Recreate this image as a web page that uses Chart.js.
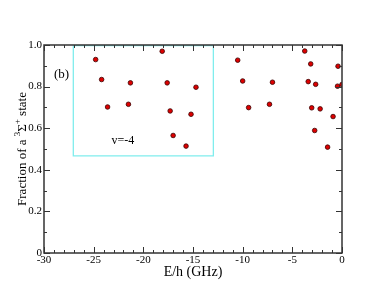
<!DOCTYPE html>
<html>
<head>
<meta charset="utf-8">
<script src="https://cdn.jsdelivr.net/npm/chart.js@4"></script>
<style>
  html, body { margin: 0; padding: 0; background: #fff; }
  #wrap { width: 385px; height: 298px; }
</style>
</head>
<body>
<div id="wrap"><canvas id="chart" width="385" height="298"></canvas></div>
<script>
// energies (GHz) and triplet fractions
const energies = [-24.8, -24.2, -23.6, -21.3, -21.5, -18.1, -17.6, -17.3, -17.0, -15.7, -15.2, -14.7,
                  -10.5, -10.0, -9.4, -7.0, -7.3,
                  -3.75, -3.15, -3.4, -2.65, -3.05, -2.2, -2.75, -1.45, -0.9, -0.4, -0.45, 0.0];
const fractions = [0.930, 0.834, 0.702, 0.818, 0.715, 0.970, 0.818, 0.683, 0.565, 0.514, 0.667, 0.797,
                   0.927, 0.827, 0.699, 0.821, 0.715,
                   0.971, 0.909, 0.824, 0.811, 0.698, 0.693, 0.589, 0.509, 0.656, 0.898, 0.802, 0.810];
// box around the v=-4 group
const boxX = [-27.05, -12.95, -12.95, -27.05, -27.05];
const boxY = [0.997, 0.997, 0.467, 0.467, 0.997];

const xTicks = [-30, -25, -20, -15, -10, -5, 0];
const yTicks = [0, 0.2, 0.4, 0.6, 0.8, 1];

const serif = '"Liberation Serif", "DejaVu Serif", serif';

const points = energies.map((e, i) => ({ x: e, y: fractions[i] }));
const box = boxX.map((x, i) => ({ x: x, y: boxY[i] }));

// y title with real super-scripts, written in pieces
function drawYTitle(ctx, cx, cy) {
  const parts = [
    ['Fraction of a ', 13, 0],
    ['3', 9, -6],
    ['\u03a3', 13, 0],
    ['+', 9, -6],
    [' state', 13, 0]
  ];
  let total = 0;
  parts.forEach(p => { ctx.font = p[1] + 'px ' + serif; total += ctx.measureText(p[0]).width; });
  ctx.save();
  ctx.translate(cx, cy);
  ctx.rotate(-Math.PI / 2);
  ctx.textBaseline = 'alphabetic';
  ctx.fillStyle = '#000';
  let x = -total / 2;
  parts.forEach(p => {
    ctx.font = p[1] + 'px ' + serif;
    ctx.fillText(p[0], x, 4 + p[2]);
    x += ctx.measureText(p[0]).width;
  });
  ctx.restore();
}

// xmgrace style frame with inward ticks on all sides
const frame = {
  id: 'frame',
  afterDatasetsDraw(chart) {
    const ctx = chart.ctx, a = chart.chartArea;
    const xs = chart.scales.x, ys = chart.scales.y;
    ctx.save();
    ctx.strokeStyle = '#333';
    ctx.lineWidth = 1.5;
    ctx.strokeRect(a.left, a.top, a.right - a.left, a.bottom - a.top);
    ctx.lineWidth = 1;
    for (let v = -30; v <= 0; v++) {
      const p = Math.round(xs.getPixelForValue(v)) + 0.5;
      const len = v % 5 === 0 ? 6 : 3;
      ctx.beginPath();
      ctx.moveTo(p, a.bottom); ctx.lineTo(p, a.bottom - len);
      ctx.moveTo(p, a.top); ctx.lineTo(p, a.top + len);
      ctx.stroke();
    }
    for (let k = 0; k <= 10; k++) {
      const p = Math.round(ys.getPixelForValue(k / 10)) + 0.5;
      const len = k % 2 === 0 ? 6 : 3;
      ctx.beginPath();
      ctx.moveTo(a.left, p); ctx.lineTo(a.left + len, p);
      ctx.moveTo(a.right, p); ctx.lineTo(a.right - len, p);
      ctx.stroke();
    }
    ctx.fillStyle = '#000';
    ctx.font = '13px ' + serif;
    ctx.textBaseline = 'middle';
    ctx.fillText('(b)', xs.getPixelForValue(-29.0), ys.getPixelForValue(0.86));
    ctx.font = '12px ' + serif;
    ctx.fillText('v=-4', xs.getPixelForValue(-23.2), ys.getPixelForValue(0.538));
    drawYTitle(ctx, 22, (a.top + a.bottom) / 2);
    ctx.restore();
  }
};

new Chart(document.getElementById('chart'), {
  type: 'scatter',
  data: {
    datasets: [
      {
        data: box,
        showLine: true,
        borderColor: '#80eded',
        borderWidth: 1.3,
        pointRadius: 0,
        fill: false
      },
      {
        data: points,
        pointRadius: 2.3,
        pointBackgroundColor: '#dd0000',
        pointBorderColor: '#3a0000',
        pointBorderWidth: 0.8
      }
    ]
  },
  options: {
    responsive: false,
    animation: false,
    layout: { padding: { top: 45, right: 43, left: 0, bottom: 17 } },
    plugins: { legend: { display: false }, tooltip: { enabled: false } },
    scales: {
      x: {
        type: 'linear',
        min: -30, max: 0,
        afterBuildTicks(s) { s.ticks = xTicks.map(v => ({ value: v })); },
        afterFit(s) { s.height = 28; },
        grid: { display: false, drawTicks: false },
        border: { display: false },
        ticks: { color: '#000', font: { family: serif, size: 11 }, padding: 1, maxRotation: 0 },
        title: { display: true, text: 'E/h (GHz)', color: '#000', font: { family: serif, size: 14 }, padding: { top: 0, bottom: 0 } }
      },
      y: {
        type: 'linear',
        min: 0, max: 1,
        afterBuildTicks(s) { s.ticks = yTicks.map(v => ({ value: v })); },
        afterFit(s) { s.width = 44; },
        grid: { display: false, drawTicks: false },
        border: { display: false },
        ticks: { color: '#000', font: { family: serif, size: 11 }, padding: 2 },
        title: { display: false }
      }
    }
  },
  plugins: [frame]
});
</script>
</body>
</html>
